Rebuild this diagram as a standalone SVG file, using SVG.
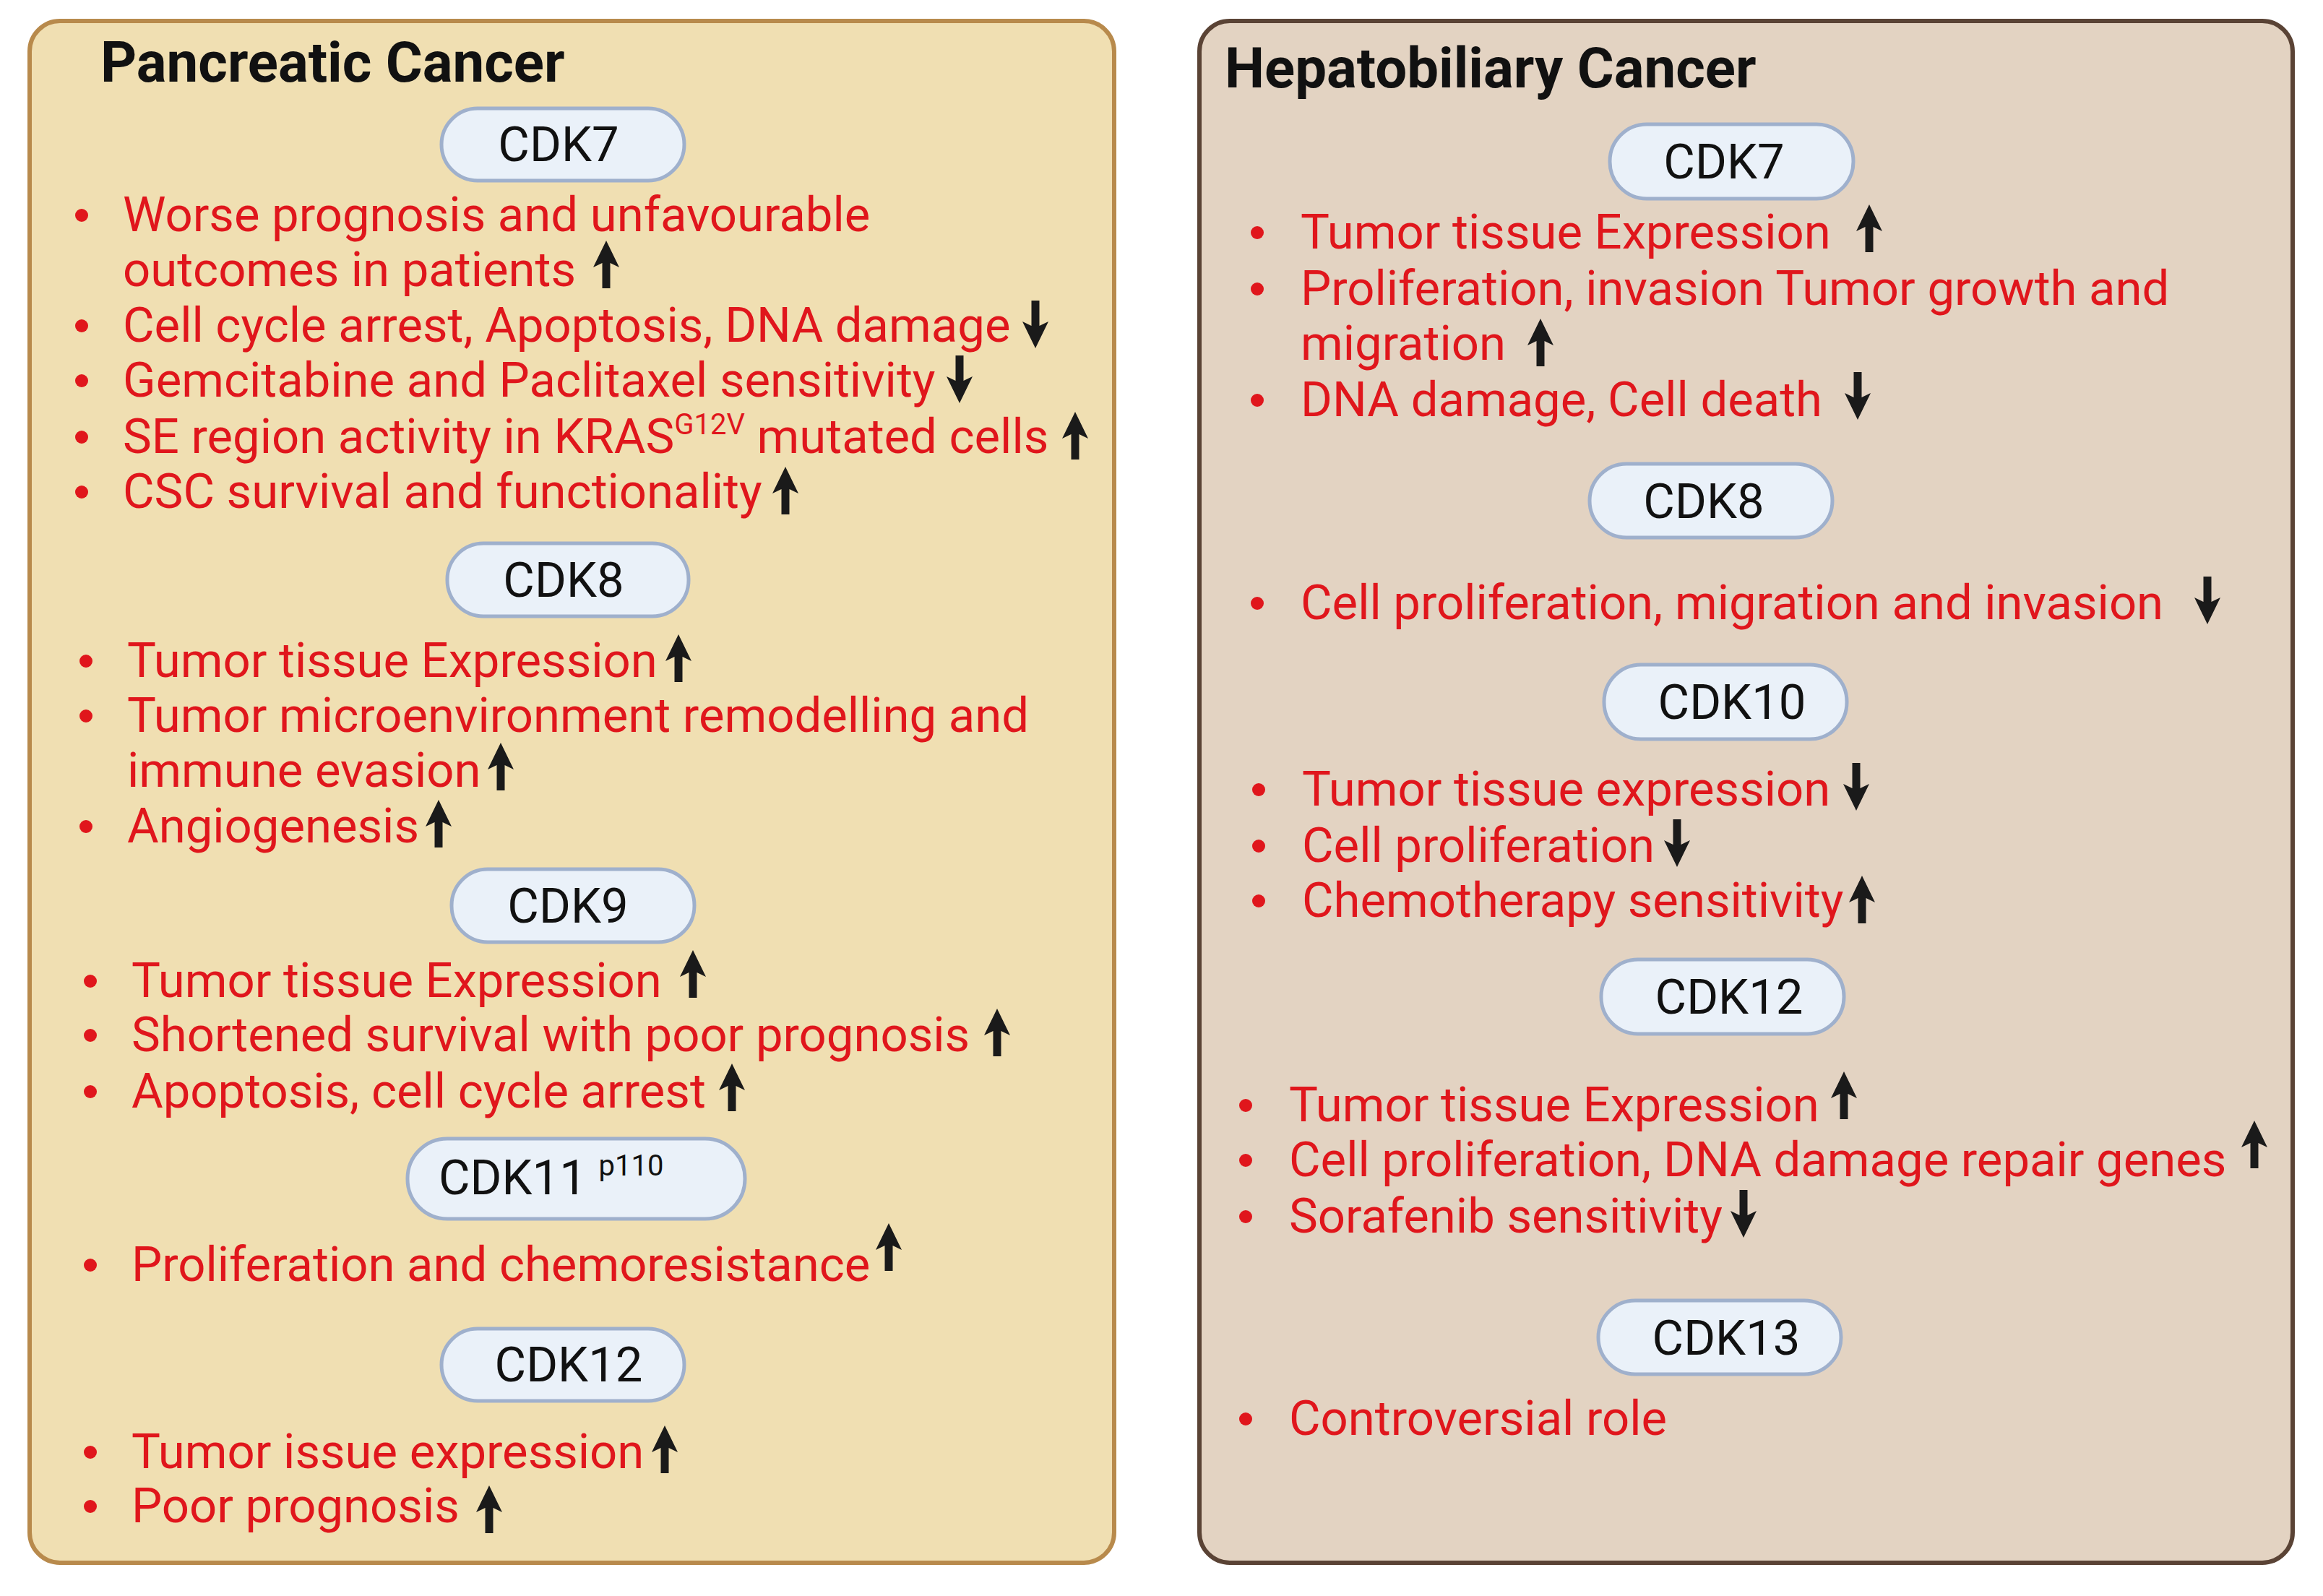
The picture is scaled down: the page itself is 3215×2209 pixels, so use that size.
<svg xmlns="http://www.w3.org/2000/svg" xmlns:xlink="http://www.w3.org/1999/xlink" width="3215" height="2209" viewBox="0 0 3215 2209">
<style>
.t{font-family:Roboto,"Liberation Sans",sans-serif;font-size:67px;fill:#e0161c}
.h{font-family:Roboto,"Liberation Sans",sans-serif;font-size:78px;font-weight:bold;fill:#111}
.p{fill:#eaf1f9;stroke:#9fb0cc;stroke-width:5}
.pt{font-family:Roboto,"Liberation Sans",sans-serif;font-size:67px;fill:#111;text-anchor:middle}
.d{fill:#e0161c}
</style>
<defs>
<path id="up" d="M0,-33 L-18,4 L-5.5,-2 L-5.5,33 L5.5,33 L5.5,-2 L18,4 Z" fill="#1a1a1a"/>
<path id="dn" d="M0,33 L-18,-4 L-5.5,2 L-5.5,-33 L5.5,-33 L5.5,2 L18,-4 Z" fill="#1a1a1a"/>
</defs>
<rect width="3215" height="2209" fill="#fff"/>
<g id="pancreatic">
<rect x="41" y="29" width="1501" height="2134" rx="42" fill="#f0dfb2" stroke="#b88a4c" stroke-width="6"/>
<text class="h" x="139" y="113">Pancreatic Cancer</text>
</g>
<g id="hepatobiliary">
<rect x="1660" y="29" width="1513" height="2134" rx="42" fill="#e3d3c2" stroke="#5a4335" stroke-width="6"/>
<text class="h" x="1695" y="121">Hepatobiliary Cancer</text>
</g>
<g id="p-cdk7"><rect class="p" x="611" y="150" width="336" height="100" rx="50"/><text class="pt" x="773" y="223">CDK7</text></g>
<g id="p-cdk7-items">
<circle class="d" cx="113" cy="298" r="9"/><text class="t" x="170" y="320">Worse prognosis and unfavourable</text>
<text class="t" x="170" y="396">outcomes in patients</text><use xlink:href="#up" x="839" y="366"/>
<circle class="d" cx="113" cy="451" r="9"/><text class="t" x="170" y="473">Cell cycle arrest, Apoptosis, DNA damage</text><use xlink:href="#dn" x="1433" y="449"/>
<circle class="d" cx="113" cy="527" r="9"/><text class="t" x="170" y="549">Gemcitabine and Paclitaxel sensitivity</text><use xlink:href="#dn" x="1328" y="525"/>
<circle class="d" cx="113" cy="605" r="9"/><text class="t" x="170" y="627">SE region activity in KRAS<tspan font-size="40" dy="-26">G12V</tspan><tspan dy="26"> mutated cells</tspan></text><use xlink:href="#up" x="1488" y="603"/>
<circle class="d" cx="113" cy="681" r="9"/><text class="t" x="170" y="703">CSC survival and functionality</text><use xlink:href="#up" x="1087" y="679"/>
</g>
<g id="p-cdk8"><rect class="p" x="619" y="752" width="334" height="101" rx="50"/><text class="pt" x="780" y="826">CDK8</text></g>
<g id="p-cdk8-items">
<circle class="d" cx="119" cy="915" r="9"/><text class="t" x="176" y="937">Tumor tissue Expression</text><use xlink:href="#up" x="939" y="911"/>
<circle class="d" cx="119" cy="991" r="9"/><text class="t" x="176" y="1013">Tumor microenvironment remodelling and</text>
<text class="t" x="176" y="1089">immune evasion</text><use xlink:href="#up" x="693" y="1061"/>
<circle class="d" cx="119" cy="1144" r="9"/><text class="t" x="176" y="1166">Angiogenesis</text><use xlink:href="#up" x="607" y="1140"/>
</g>
<g id="p-cdk9"><rect class="p" x="625" y="1203" width="336" height="101" rx="50"/><text class="pt" x="786" y="1277">CDK9</text></g>
<g id="p-cdk9-items">
<circle class="d" cx="125" cy="1358" r="9"/><text class="t" x="182" y="1380">Tumor tissue Expression</text><use xlink:href="#up" x="959" y="1348"/>
<circle class="d" cx="125" cy="1433" r="9"/><text class="t" x="182" y="1455">Shortened survival with poor prognosis</text><use xlink:href="#up" x="1380" y="1429"/>
<circle class="d" cx="125" cy="1511" r="9"/><text class="t" x="182" y="1533">Apoptosis, cell cycle arrest</text><use xlink:href="#up" x="1013" y="1505"/>
</g>
<g id="p-cdk11"><rect class="p" x="564" y="1576" width="467" height="111" rx="55"/><text class="pt" x="607" y="1653" style="text-anchor:start">CDK11 <tspan font-size="40" dy="-26">p110</tspan></text></g>
<g id="p-cdk11-items">
<circle class="d" cx="125" cy="1751" r="9"/><text class="t" x="182" y="1773">Proliferation and chemoresistance</text><use xlink:href="#up" x="1230" y="1726"/>
</g>
<g id="p-cdk12"><rect class="p" x="611" y="1839" width="336" height="100" rx="50"/><text class="pt" x="787" y="1912">CDK12</text></g>
<g id="p-cdk12-items">
<circle class="d" cx="125" cy="2010" r="9"/><text class="t" x="182" y="2032">Tumor issue expression</text><use xlink:href="#up" x="920" y="2006"/>
<circle class="d" cx="125" cy="2085" r="9"/><text class="t" x="182" y="2107">Poor prognosis</text><use xlink:href="#up" x="677" y="2089"/>
</g>
<g id="h-cdk7"><rect class="p" x="2228" y="172" width="337" height="103" rx="51"/><text class="pt" x="2386" y="247">CDK7</text></g>
<g id="h-cdk7-items">
<circle class="d" cx="1740" cy="322" r="9"/><text class="t" x="1800" y="344">Tumor tissue Expression</text><use xlink:href="#up" x="2587" y="316"/>
<circle class="d" cx="1740" cy="400" r="9"/><text class="t" x="1800" y="422">Proliferation, invasion Tumor growth and</text>
<text class="t" x="1800" y="498">migration</text><use xlink:href="#up" x="2132" y="474"/>
<circle class="d" cx="1740" cy="554" r="9"/><text class="t" x="1800" y="576">DNA damage, Cell death</text><use xlink:href="#dn" x="2571" y="548"/>
</g>
<g id="h-cdk8"><rect class="p" x="2200" y="642" width="336" height="102" rx="51"/><text class="pt" x="2358" y="717">CDK8</text></g>
<g id="h-cdk8-items">
<circle class="d" cx="1740" cy="835" r="9"/><text class="t" x="1800" y="857">Cell proliferation, migration and invasion</text><use xlink:href="#dn" x="3055" y="831"/>
</g>
<g id="h-cdk10"><rect class="p" x="2220" y="920" width="336" height="103" rx="51"/><text class="pt" x="2397" y="995">CDK10</text></g>
<g id="h-cdk10-items">
<circle class="d" cx="1742" cy="1093" r="9"/><text class="t" x="1802" y="1115">Tumor tissue expression</text><use xlink:href="#dn" x="2569" y="1089"/>
<circle class="d" cx="1742" cy="1171" r="9"/><text class="t" x="1802" y="1193">Cell proliferation</text><use xlink:href="#dn" x="2321" y="1167"/>
<circle class="d" cx="1742" cy="1247" r="9"/><text class="t" x="1802" y="1269">Chemotherapy sensitivity</text><use xlink:href="#up" x="2577" y="1245"/>
</g>
<g id="h-cdk12"><rect class="p" x="2216" y="1328" width="336" height="103" rx="51"/><text class="pt" x="2393" y="1403">CDK12</text></g>
<g id="h-cdk12-items">
<circle class="d" cx="1724" cy="1530" r="9"/><text class="t" x="1784" y="1552">Tumor tissue Expression</text><use xlink:href="#up" x="2552" y="1516"/>
<circle class="d" cx="1724" cy="1606" r="9"/><text class="t" x="1784" y="1628">Cell proliferation, DNA damage repair genes</text><use xlink:href="#up" x="3120" y="1584"/>
<circle class="d" cx="1724" cy="1684" r="9"/><text class="t" x="1784" y="1706">Sorafenib sensitivity</text><use xlink:href="#dn" x="2413" y="1680"/>
</g>
<g id="h-cdk13"><rect class="p" x="2212" y="1800" width="336" height="102" rx="51"/><text class="pt" x="2389" y="1875">CDK13</text></g>
<g id="h-cdk13-items">
<circle class="d" cx="1724" cy="1964" r="9"/><text class="t" x="1784" y="1986">Controversial role</text>
</g>
<g id="connectors"/>
</svg>
